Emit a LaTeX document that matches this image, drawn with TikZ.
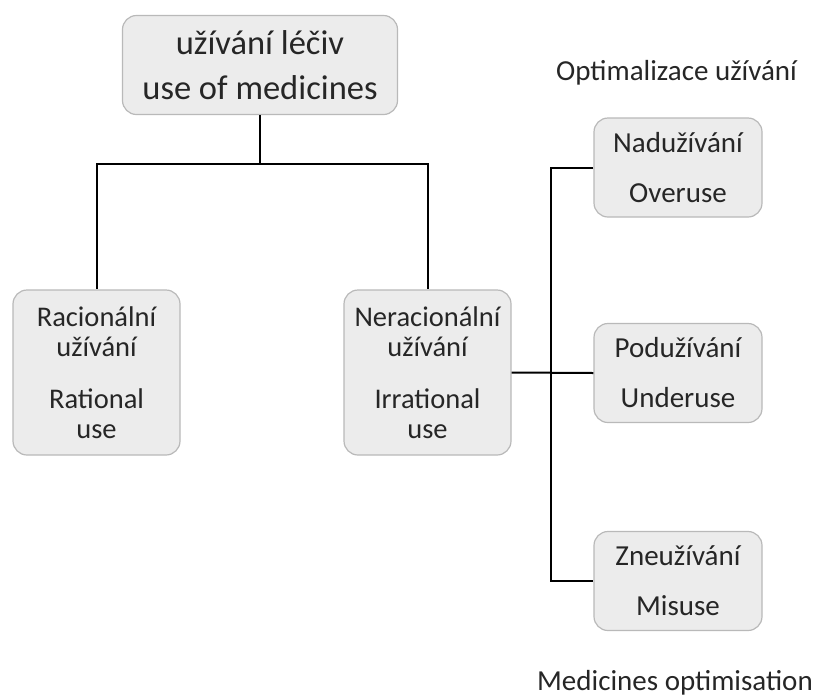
\documentclass[tikz,border=0pt]{standalone}
\usepackage{fontspec}
\setmainfont{Carlito}

\begin{document}
\begin{tikzpicture}%
[x=1pt, y=-1pt,%
box/.style={draw=gray!55, fill=gray!15, rounded corners=14pt, line width=1.2pt, align=center, inner sep=0pt, text=black!85},%
big/.style={font=\fontsize{34.5}{45}\selectfont},%
mid/.style={font=\fontsize{28.5}{30}\selectfont},%
pair/.style={font=\fontsize{29}{50}\selectfont, minimum width=168pt, minimum height=99pt},%
tall/.style={minimum width=167pt, minimum height=165pt},%
note/.style={font=\fontsize{29}{32}\selectfont, text=black!85, inner sep=0pt},%
link/.style={line width=2pt}]

\useasboundingbox (0,0) rectangle (816,697);

\node[box, big, minimum width=275pt, minimum height=99pt] (use) at (260,65) {užívání léčiv\\use of medicines};

\node[box, mid, tall] (rat) at (96.5,372.5) {Racionální\\užívání\\[22pt]Rational\\use};
\node[box, mid, tall] (irr) at (427.5,372.5) {Neracionální\\užívání\\[22pt]Irrational\\use};

\node[box, pair] (over) at (678,167.5) {Nadužívání\\Overuse};
\node[box, pair] (under) at (678,373) {Podužívání\\Underuse};
\node[box, pair] (mis) at (678,581) {Zneužívání\\Misuse};

\node[note] (opt) at (676.5,73) {Optimalizace užívání};
\node[note] (med) at (675,683) {Medicines optimisation};

\coordinate (fork) at (260,164);
\coordinate (bus) at (551,372);

\draw[link] (use.south) -- (fork) -| (rat.north);
\draw[link] (fork) -| (irr.north);
\draw[link] (irr.east) -- (under.west);
\draw[link] (over.west) -- (over.west -| bus) -- (mis.west -| bus) -- (mis.west);
\end{tikzpicture}
\end{document}
